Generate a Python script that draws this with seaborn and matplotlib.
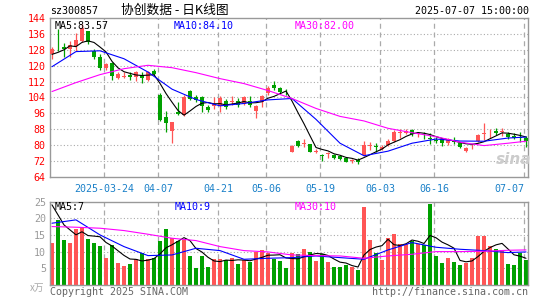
import pandas as pd
import matplotlib
matplotlib.use("Agg")
import matplotlib.pyplot as plt
import seaborn as sns

# ---- datos diarios ----
opens = [125.7, 128.6, 129.3, 128.2, 130.1, 132.3, 137.6, 127.4, 124.5, 118.7,
         121.2, 113.7, 114.3, 115.2, 114.1, 115.2, 112.8, 117.5, 105.2, 94.0,
         87.3, 96.6, 95.2, 107.3, 104.0, 104.0, 99.2, 99.9, 99.6, 102.4,
         101.6, 102.2, 100.6, 102.2, 97.2, 101.6, 106.1, 110.3, 108.6, 107.0,
         76.7, 82.1, 80.5, 80.4, 76.8, 75.1, 75.6, 75.1, 74.4, 73.7,
         72.0, 72.4, 75.0, 79.4, 79.6, 78.1, 80.1, 82.1, 85.9, 86.0,
         87.6, 85.6, 85.2, 83.5, 82.4, 83.0, 80.9, 82.3, 80.9, 77.1,
         79.4, 82.1, 85.6, 86.4, 87.1, 86.8, 85.8, 84.8, 84.2, 83.7]
highs = [129.2, 138.5, 131.4, 132.4, 136.3, 140.8, 137.6, 128.4, 125.7, 121.2,
         122.0, 117.0, 117.0, 117.0, 117.3, 116.6, 117.2, 118.2, 106.4, 97.2,
         91.8, 101.5, 105.3, 107.8, 105.3, 104.6, 100.2, 104.0, 104.6, 103.2,
         104.6, 103.9, 104.9, 104.7, 100.0, 105.5, 110.0, 112.3, 109.4, 108.3,
         80.1, 82.6, 83.1, 80.7, 78.1, 75.4, 76.4, 75.6, 74.7, 74.2,
         73.0, 73.4, 82.1, 81.8, 81.3, 80.1, 83.1, 87.6, 88.0, 88.0,
         88.1, 86.8, 86.5, 86.0, 84.1, 83.4, 83.4, 84.3, 81.7, 79.3,
         80.4, 85.6, 91.0, 88.0, 88.5, 88.5, 86.5, 86.0, 86.5, 84.8]
lows = [123.2, 127.4, 124.5, 124.5, 127.4, 132.0, 130.7, 123.2, 117.8, 117.8,
        112.8, 113.3, 113.7, 112.8, 112.3, 111.1, 112.5, 115.3, 92.2, 86.5,
        80.9, 95.2, 94.8, 102.7, 101.5, 96.9, 96.9, 98.2, 96.9, 98.4,
        100.2, 99.4, 100.2, 99.4, 93.8, 99.4, 105.3, 107.8, 106.1, 105.3,
        76.4, 79.3, 79.3, 76.4, 75.9, 72.2, 73.4, 73.3, 72.7, 71.3,
        70.8, 70.7, 74.7, 77.6, 76.4, 77.6, 79.6, 81.7, 83.8, 85.5,
        84.8, 84.3, 83.3, 80.4, 80.9, 79.7, 80.1, 80.4, 78.4, 76.7,
        78.1, 81.7, 82.6, 83.8, 85.1, 84.8, 83.3, 83.1, 81.7, 79.3]
closes = [128.2, 128.2, 128.5, 130.2, 132.9, 138.8, 132.1, 124.5, 118.7, 120.7,
          115.0, 115.7, 114.8, 114.5, 116.7, 113.6, 116.7, 115.8, 92.7, 91.3,
          91.8, 95.8, 104.0, 103.2, 102.7, 99.9, 97.7, 100.6, 103.7, 99.4,
          102.2, 100.2, 104.4, 100.2, 99.9, 104.7, 109.0, 109.0, 106.9, 106.6,
          79.6, 79.8, 81.0, 76.7, 77.1, 74.8, 76.1, 73.7, 73.0, 71.7,
          72.4, 71.7, 80.1, 80.1, 79.1, 79.3, 82.3, 86.8, 86.4, 87.3,
          85.4, 86.0, 85.0, 83.1, 82.1, 80.9, 82.8, 81.8, 79.3, 78.8,
          79.6, 85.1, 86.0, 86.8, 86.0, 87.1, 84.3, 83.4, 83.8, 82.1]
volumes = [12.7, 19.5, 13.5, 12.7, 16.7, 17.3, 13.8, 12.7, 11.7, 8.2,
           12.0, 6.7, 5.7, 6.3, 7.7, 9.6, 7.9, 8.0, 13.3, 16.9,
           14.1, 13.2, 13.4, 8.8, 5.1, 8.8, 5.4, 7.9, 7.8, 7.4,
           8.2, 6.4, 7.5, 6.8, 10.0, 10.6, 9.7, 7.7, 7.3, 5.2,
           9.7, 9.3, 10.8, 10.0, 7.3, 9.3, 6.8, 5.5, 5.3, 6.0,
           5.5, 4.6, 23.5, 13.5, 9.7, 7.6, 14.1, 15.4, 12.3, 12.3,
           13.2, 12.3, 12.0, 24.4, 8.8, 6.7, 8.2, 7.0, 6.1, 6.7,
           8.0, 14.8, 14.8, 11.7, 10.8, 10.2, 6.4, 6.1, 9.7, 7.6]

# medias moviles (cada 4 sesiones + la ultima)
ma_idx = [0, 4, 8, 12, 16, 20, 24, 28, 32, 36, 40, 44, 48, 52, 56, 60, 64, 68, 72, 76, 79]
ma10 = [119.5, 127.1, 127.5, 123.5, 116.8, 108.2, 103.0, 99.8, 101.0, 102.8, 103.5,
        93.0, 81.0, 74.7, 77.0, 81.0, 83.1, 82.1, 82.0, 83.6, 84.1]
ma30 = [107.0, 111.5, 115.5, 118.5, 120.2, 119.0, 116.5, 113.5, 111.0, 107.5, 103.5,
        98.5, 94.5, 92.2, 88.5, 86.3, 84.3, 81.5, 79.8, 81.0, 82.0]
vol_ma10 = [18.5, 19.5, 15.0, 11.5, 8.8, 9.0, 11.0, 10.3, 7.7, 8.0, 8.2,
            8.7, 8.2, 7.7, 10.5, 12.7, 11.3, 10.7, 10.3, 9.7, 9.9]
vol_ma30 = [17.5, 17.3, 17.0, 16.3, 15.2, 14.0, 13.3, 11.5, 10.3, 9.9, 9.0,
            8.8, 8.7, 8.0, 8.7, 9.2, 10.0, 10.0, 10.1, 10.4, 10.5]
# MA5 de las primeras 4 sesiones (depende de datos anteriores)
ma5_lead = [125.7, 126.7, 128.0, 130.0]
vol_ma5_lead = [24.0, 21.0, 18.0, 16.5]

holidays = ['2025-04-04', '2025-05-01', '2025-05-02', '2025-05-05', '2025-06-02']
tick_dates = ['2025-03-24', '2025-04-07', '2025-04-21', '2025-05-06',
              '2025-05-19', '2025-06-03', '2025-06-16', '2025-07-07']
tick_labels = ['2025-03-24', '04-07', '04-21', '05-06', '05-19', '06-03', '06-16', '07-07']

RED = '#ff5555'
GREEN = '#00a000'
GRID = '#aaaaaa'
BORDER = '#999999'
BLUE_TXT = '#1a80c8'

dates = pd.bdate_range('2025-03-11', '2025-07-07', freq='C', holidays=holidays)
df = pd.DataFrame({'date': dates, 'open': opens, 'high': highs, 'low': lows,
                   'close': closes, 'volume': volumes})
df['i'] = range(len(df))
df['up'] = df['close'] >= df['open']
colors = df['up'].map({True: RED, False: GREEN})

ma5 = df['close'].rolling(5).mean()
ma5.iloc[:4] = ma5_lead
vol_ma5 = df['volume'].rolling(5).mean()
vol_ma5.iloc[:4] = vol_ma5_lead

tick_pos = [int(df.index[df['date'] == pd.Timestamp(d)][0]) for d in tick_dates]

sns.set_style('white')
plt.rcParams['font.family'] = ['DejaVu Sans Mono', 'Noto Sans CJK SC']

W, H = 545, 300
fig = plt.figure(figsize=(W / 100, H / 100), dpi=100)


def fx(x):
    return x / W


def fy(y):
    return 1 - y / H


ax = fig.add_axes([fx(50), fy(177), fx(478), 159 / H])
ax2 = fig.add_axes([fx(50), fy(285), fx(478), 83.5 / H])

xlim = (-0.33, len(df) - 0.67)

# ---- panel de precios ----
for y in range(72, 144, 8):
    ax.axhline(y, color=GRID, lw=0.8, ls=(0, (1, 2)), zorder=0)
for p in tick_pos:
    ax.axvline(p - 0.33, color=GRID, lw=0.9, ls=(0, (4, 3)), zorder=0)

ax.vlines(df['i'], df['low'], df['high'], colors=colors, lw=0.9, zorder=2)
body = (df['close'] - df['open']).abs().clip(lower=0.3)
ax.bar(df['i'], body, bottom=df[['open', 'close']].min(axis=1), width=0.8,
       color=colors, linewidth=0, zorder=3)

sns.lineplot(x=df['i'], y=ma5, color='black', lw=0.8, ax=ax, zorder=4)
sns.lineplot(x=ma_idx, y=ma10, color='#0000ff', lw=0.8, ax=ax, zorder=4)
sns.lineplot(x=ma_idx, y=ma30, color='#ff00ff', lw=0.8, ax=ax, zorder=4)

ax.set_xlim(*xlim)
ax.set_ylim(64, 144)
ax.set_yticks(range(64, 145, 8))
ax.set_yticklabels([str(v) for v in range(64, 145, 8)], color='red', fontsize=7.2)
ax.set_xticks([p - 0.33 for p in tick_pos])
ax.set_xticklabels(tick_labels, color=BLUE_TXT, fontsize=7.2)
ax.get_xticklabels()[-1].set_horizontalalignment('right')
ax.tick_params(length=0, pad=3)
ax.tick_params(axis='x', pad=5)
ax.set_xlabel('')
ax.set_ylabel('')

ax.text((55 - 50) / 478, 0.95, 'MA5:83.57', transform=ax.transAxes,
        color='black', fontsize=7.2, va='center')
ax.text((174 - 50) / 478, 0.95, 'MA10:84.10', transform=ax.transAxes,
        color='#0000ff', fontsize=7.2, va='center')
ax.text((295 - 50) / 478, 0.95, 'MA30:82.00', transform=ax.transAxes,
        color='#ff00ff', fontsize=7.2, va='center')

# ---- panel de volumen ----
for y in [5, 10, 15, 20]:
    ax2.axhline(y, color=GRID, lw=0.8, ls=(0, (1, 2)), zorder=0)
for p in tick_pos:
    ax2.axvline(p - 0.33, color=GRID, lw=0.9, ls=(0, (4, 3)), zorder=0)

ax2.bar(df['i'], df['volume'], width=0.82, color=colors, linewidth=0, zorder=2)
sns.lineplot(x=df['i'], y=vol_ma5, color='black', lw=0.8, ax=ax2, zorder=4)
sns.lineplot(x=ma_idx, y=vol_ma10, color='#0000ff', lw=0.8, ax=ax2, zorder=4)
sns.lineplot(x=ma_idx, y=vol_ma30, color='#ff00ff', lw=0.8, ax=ax2, zorder=4)

ax2.set_xlim(*xlim)
ax2.set_ylim(0, 25)
ax2.set_yticks([5, 10, 15, 20, 25])
ax2.set_yticklabels(['5', '10', '15', '20', '25'], color='#999999', fontsize=7.2)
ax2.set_xticks([])
ax2.tick_params(length=0, pad=3)
ax2.set_xlabel('')
ax2.set_ylabel('')

ax2.text((55 - 50) / 478, 0.93, 'MA5:7', transform=ax2.transAxes,
         color='black', fontsize=7.2, va='center')
ax2.text((175 - 50) / 478, 0.93, 'MA10:9', transform=ax2.transAxes,
         color='#0000ff', fontsize=7.2, va='center')
ax2.text((295 - 50) / 478, 0.93, 'MA30:10', transform=ax2.transAxes,
         color='#ff00ff', fontsize=7.2, va='center')

for a in (ax, ax2):
    for s in a.spines.values():
        s.set_color(BORDER)
        s.set_linewidth(1.0)

# ---- textos ----
fig.text(fx(50), fy(11), 'sz300857', fontsize=7.2, va='center', color='black')
fig.text(fx(121), fy(10), '协创数据 - 日K线图', fontsize=9.2, va='center',
         color='black', family=['Noto Sans CJK SC', 'DejaVu Sans'])
fig.text(fx(529), fy(11), '2025-07-07 15:00:00', fontsize=7.2, va='center',
         ha='right', color='black')
fig.text(fx(44), fy(288), 'x万', fontsize=7, va='center', ha='right',
         color='#aaaaaa', style='italic', family=['Noto Sans CJK SC', 'DejaVu Sans'])
fig.text(fx(50), fy(292), 'Copyright 2025 SINA.COM', fontsize=7.2, va='center',
         color='#666666')
fig.text(fx(528), fy(292), 'http://finance.sina.com.cn', fontsize=7.2, va='center',
         ha='right', color='#666666')
fig.text(fx(514), fy(160), 'sina', fontsize=11, va='center', ha='center',
         color='#cccccc', style='italic', weight='bold', family='DejaVu Sans')

fig.savefig('out.png', dpi=100)
